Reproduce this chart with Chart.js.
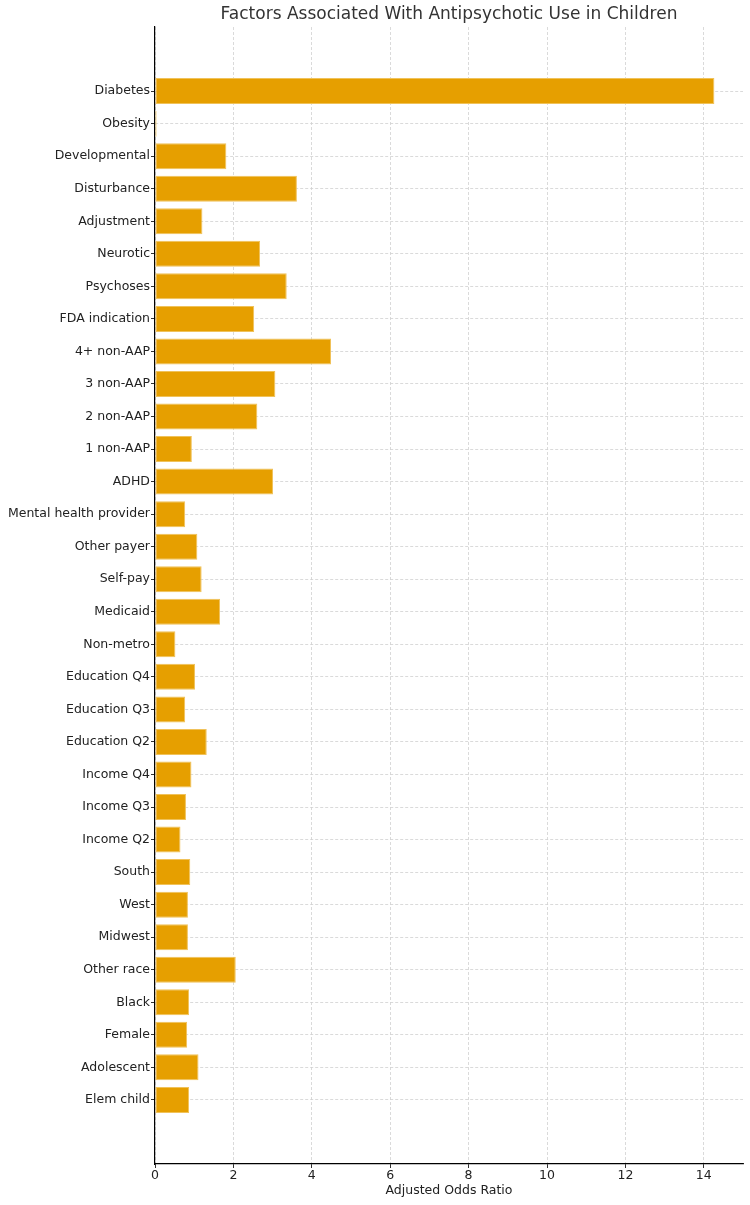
<!DOCTYPE html>
<html>
<head>
<meta charset="utf-8">
<script src="https://cdn.jsdelivr.net/npm/chart.js@4/dist/chart.umd.min.js"></script>
<style>
  html, body { margin: 0; padding: 0; background: #fff; }
  #wrap { width: 750px; height: 1205px; }
</style>
</head>
<body>
<div id="wrap"><canvas id="myChart" width="750" height="1205"></canvas></div>
<script>
// Data
const categories = [
  'Diabetes', 'Obesity', 'Developmental', 'Disturbance', 'Adjustment', 'Neurotic',
  'Psychoses', 'FDA indication', '4+ non-AAP', '3 non-AAP', '2 non-AAP', '1 non-AAP',
  'ADHD', 'Mental health provider', 'Other payer', 'Self-pay', 'Medicaid', 'Non-metro',
  'Education Q4', 'Education Q3', 'Education Q2', 'Income Q4', 'Income Q3', 'Income Q2',
  'South', 'West', 'Midwest', 'Other race', 'Black', 'Female', 'Adolescent', 'Elem child'
];
const oddsRatios = [
  14.27, 0.04, 1.82, 3.62, 1.21, 2.68,
  3.36, 2.53, 4.49, 3.07, 2.61, 0.94,
  3.01, 0.77, 1.08, 1.19, 1.66, 0.52,
  1.02, 0.77, 1.32, 0.93, 0.79, 0.65,
  0.9, 0.84, 0.84, 2.06, 0.87, 0.82, 1.11, 0.87
];
const xTicks = [0, 2, 4, 6, 8, 10, 12, 14];

const chartTitle = 'Factors Associated With Antipsychotic Use in Children';
const font = "'DejaVu Sans', sans-serif";

// Titel zentriert über der Zeichenfläche (wie matplotlib)
const titlePlugin = {
  id: 'axesTitle',
  afterDraw(chart) {
    const { ctx, chartArea } = chart;
    ctx.save();
    ctx.font = "17px " + font;
    ctx.fillStyle = '#333';
    ctx.textAlign = 'center';
    ctx.textBaseline = 'middle';
    ctx.fillText(chartTitle, (chartArea.left + chartArea.right) / 2, 15);
    ctx.restore();
  }
};

document.addEventListener("DOMContentLoaded", function () {
  const ctx = document.getElementById('myChart').getContext('2d');
  new Chart(ctx, {
    type: 'bar',
    data: {
      datasets: [{
        label: 'Adjusted Odds Ratio',
        data: oddsRatios.map((v, i) => ({ x: v, y: i })),
        backgroundColor: '#E69F00',
        borderColor: '#f0c25a',
        borderWidth: 1,
        borderSkipped: false,
        barPercentage: 1,
        categoryPercentage: 0.8
      }]
    },
    plugins: [titlePlugin],
    options: {
      indexAxis: 'y',
      responsive: false,
      animation: false,
      layout: { padding: { top: 27, right: 7 } },
      plugins: {
        legend: { display: false },
        tooltip: { enabled: false },
        title: { display: false }
      },
      scales: {
        x: {
          type: 'linear',
          min: 0,
          max: 15,
          afterBuildTicks: scale => { scale.ticks = xTicks.map(v => ({ value: v })); },
          afterFit: scale => { scale.height = 41; },
          ticks: { color: '#222', font: { family: font, size: 12.5 }, padding: 0 },
          grid: { color: '#d0d0d0', lineWidth: 0.8, tickLength: 4, tickColor: '#333', tickWidth: 1 },
          border: { display: true, color: '#000', width: 1.2, dash: [3, 2] },
          title: {
            display: true,
            text: 'Adjusted Odds Ratio',
            color: '#222',
            font: { family: font, size: 12.5 },
            padding: { top: 0, bottom: 7 }
          }
        },
        y: {
          type: 'linear',
          reverse: true,
          offset: false,
          bounds: 'data',
          min: -1.97,
          max: 32.97,
          afterBuildTicks: scale => {
            scale.ticks = categories.map((c, i) => ({ value: i }));
            scale.min = -1.97;
            scale.max = 32.97;
          },
          afterFit: scale => { scale.width = 155; },
          ticks: {
            color: '#222',
            font: { family: font, size: 12.5 },
            padding: 1,
            callback: value => categories[value]
          },
          grid: { offset: false, color: '#d0d0d0', lineWidth: 0.8, tickLength: 4, tickColor: '#333', tickWidth: 1 },
          border: { display: true, color: '#000', width: 1.2, dash: [3, 2] }
        }
      }
    }
  });
});
</script>
</body>
</html>
